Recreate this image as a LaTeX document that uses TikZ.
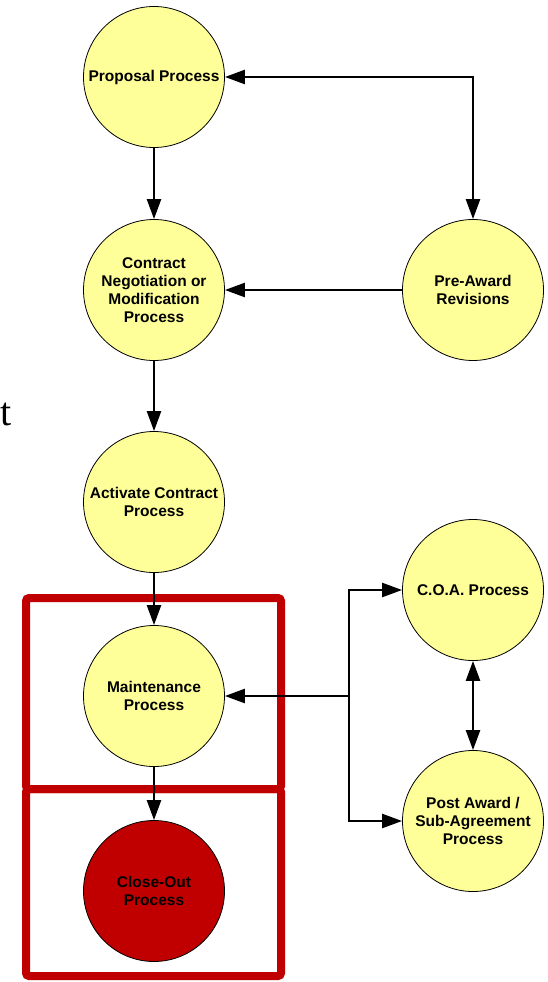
\documentclass[tikz,border=0pt]{standalone}
\usepackage{fontspec}
\setmainfont{Liberation Sans}
\newfontfamily\serifnote{Liberation Serif}
\usetikzlibrary{arrows.meta}
\definecolor{procfill}{HTML}{FFFF99}
\definecolor{boxred}{HTML}{C00000}
\tikzset{
  proc/.style={circle, draw=black, line width=0.8pt, fill=procfill, minimum size=141pt, inner sep=0pt,
    align=center, font=\fontsize{15.5}{18}\selectfont\bfseries},
  closeproc/.style={proc, fill=boxred},
  link/.style={line width=2.4pt, -{Triangle[length=20pt,width=14pt]}},
  dlink/.style={line width=2.4pt, {Triangle[length=20pt,width=14pt]}-{Triangle[length=20pt,width=14pt]}},
  redbox/.style={draw=boxred, line width=8pt, rounded corners=3pt}
}
\begin{document}
\begin{tikzpicture}[x=1pt,y=-1pt]
\useasboundingbox (0,0) rectangle (548,982);
% red frames
\draw[redbox] (26,598) rectangle (281,789);
\draw[redbox] (26,789) rectangle (281,976);
% nodes
\node[proc] (prop) at (154,77) {Proposal Process};
\node[proc] (neg) at (154,290) {Contract\\Negotiation or\\Modification\\Process};
\node[proc] (pre) at (473,290) {Pre-Award\\Revisions};
\node[proc] (act) at (154,502) {Activate Contract\\Process};
\node[proc] (main) at (154,696) {Maintenance\\Process};
\node[closeproc] (close) at (154,891) {Close-Out\\Process};
\node[proc] (coa) at (473,590) {C.O.A. Process};
\node[proc] (post) at (473,821) {Post Award /\\Sub-Agreement\\Process};
\node[font=\serifnote\fontsize{40}{48}\selectfont, anchor=base east, inner sep=0pt] (tnote) at (12,425) {t};
% connectors
\coordinate (corner) at (473,77);
\coordinate (branch) at (349,696);
\draw[link] (prop) -- (neg);
\draw[link] (neg) -- (act);
\draw[link] (act) -- (main);
\draw[link] (main) -- (close);
\draw[link] (pre) -- (neg);
\draw[dlink] (prop.east) -- (corner) -- (pre.north);
\draw[dlink] (coa) -- (post);
\draw[link] (branch) -- (main.east);
\draw[link] (branch) |- (coa.west);
\draw[link] (branch) |- (post.west);
\end{tikzpicture}
\end{document}
